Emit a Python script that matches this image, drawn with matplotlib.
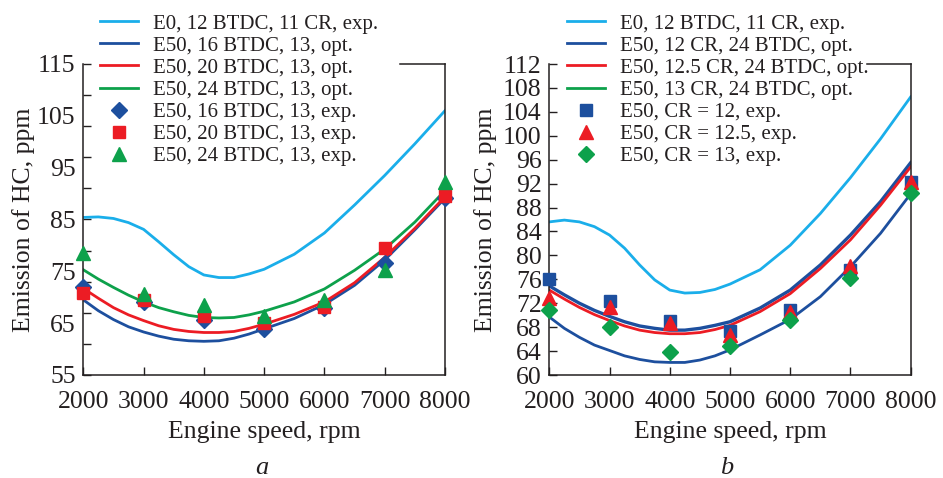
import numpy as np
import matplotlib
matplotlib.use("Agg")
import matplotlib.pyplot as plt
from matplotlib.lines import Line2D

plt.rcParams['font.family'] = ['Liberation Serif', 'DejaVu Serif']

# engine speed grid for the fitted (opt.) curves, rpm (finer where the curves bend)
speed_fit = [2000, 2250, 2500, 2750, 3000, 3250, 3500, 3750, 4000, 4250, 4500, 4750, 5000,
             5500, 6000, 6500, 7000, 7500, 8000]
# engine speed of the measured (exp.) points
speed_exp = [2000, 3000, 4000, 5000, 6000, 7000, 8000]

# ---- panel a: ignition timing ----
e0_a = [85.4, 85.5, 85.2, 84.4, 83.1, 80.7, 78.2, 75.9, 74.3, 73.8, 73.8, 74.5, 75.4,
        78.3, 82.4, 87.8, 93.5, 99.6, 106.0]
btdc16_opt = [69.5, 67.4, 65.7, 64.3, 63.3, 62.5, 61.9, 61.6, 61.5, 61.6, 62.1, 62.9, 63.9,
              65.9, 68.6, 72.3, 77.2, 83.0, 89.1]
btdc20_opt = [71.7, 69.8, 68.0, 66.6, 65.5, 64.5, 63.8, 63.4, 63.2, 63.2, 63.4, 64.0, 64.8,
              66.7, 69.1, 72.8, 77.7, 83.3, 89.4]
btdc24_opt = [75.3, 73.5, 71.9, 70.4, 69.1, 68.0, 67.2, 66.5, 66.1, 66.0, 66.1, 66.6, 67.3,
              69.1, 71.6, 75.2, 79.3, 84.5, 90.6]
btdc16_exp = [71.9, 69.1, 65.7, 63.8, 67.9, 76.6, 89.2]
btdc20_exp = [70.8, 69.5, 66.4, 65.1, 68.2, 79.5, 89.5]
btdc24_exp = [78.5, 70.6, 68.5, 66.3, 69.5, 75.3, 92.2]

labels_a = ["E0, 12 BTDC, 11 CR, exp.",
            "E50, 16 BTDC, 13, opt.",
            "E50, 20 BTDC, 13, opt.",
            "E50, 24 BTDC, 13, opt.",
            "E50, 16 BTDC, 13, exp.",
            "E50, 20 BTDC, 13, exp.",
            "E50, 24 BTDC, 13, exp."]

# ---- panel b: compression ratio ----
e0_b = [85.6, 85.9, 85.6, 84.8, 83.4, 81.2, 78.4, 75.9, 74.2, 73.7, 73.8, 74.3, 75.2,
        77.6, 81.7, 87.0, 93.0, 99.5, 106.5]
cr12_opt = [74.9, 73.4, 72.0, 70.8, 69.8, 68.9, 68.2, 67.8, 67.5, 67.5, 67.8, 68.3, 68.9,
            71.2, 74.2, 78.4, 83.4, 89.0, 95.5]
cr125_opt = [74.2, 72.7, 71.3, 70.1, 69.1, 68.2, 67.5, 67.1, 66.9, 66.9, 67.1, 67.6, 68.3,
             70.6, 73.6, 77.8, 82.6, 88.4, 94.8]
cr13_opt = [69.7, 67.8, 66.3, 65.0, 64.1, 63.2, 62.6, 62.2, 62.1, 62.1, 62.5, 63.2, 64.2,
            66.7, 69.3, 73.1, 78.1, 83.7, 90.3]
cr12_exp = [76.0, 72.4, 69.1, 67.4, 70.9, 77.6, 92.3]
cr125_exp = [72.8, 71.3, 68.7, 66.7, 70.6, 78.2, 92.3]
cr13_exp = [70.9, 68.1, 63.9, 64.9, 69.2, 76.2, 90.4]

labels_b = ["E0, 12 BTDC, 11 CR, exp.",
            "E50, 12 CR, 24 BTDC, opt.",
            "E50, 12.5 CR, 24 BTDC, opt.",
            "E50, 13 CR, 24 BTDC, opt.",
            "E50, CR = 12, exp.",
            "E50, CR = 12.5, exp.",
            "E50, CR = 13, exp."]

CYAN = '#1AAEEA'
BLUE = '#1D4F9E'
RED = '#EC1C24'
GREEN = '#0DA14B'
INK = '#231F20'

W, H = 943, 478
fig = plt.figure(figsize=(W / 100, H / 100), dpi=100)
ax_a = fig.add_axes([83.3 / W, 1 - 375 / H, (445 - 83.3) / W, 311 / H])
ax_b = fig.add_axes([549.3 / W, 1 - 375 / H, (910.7 - 549.3) / W, 311 / H])

LW = 2.0
mk = dict(linestyle='none', clip_on=False, zorder=4)
D_MS, S_MS, T_MS = 8, 8.5, 9.5


def style_axes(ax, ylim, top_from):
    ax.set_xlim(2000, 8000)
    ax.set_ylim(*ylim)
    ax.set_xticks(range(2000, 8001, 1000))
    for s in ax.spines.values():
        s.set_color(INK)
        s.set_linewidth(1.1)
    # top spine is hidden behind the legend, only the right end shows
    ax.spines['top'].set_bounds(top_from, 8000)
    ax.tick_params(axis='x', direction='in', length=6, width=1, color=INK,
                   labelsize=18.5, labelcolor=INK, pad=11.5)
    ax.tick_params(axis='y', which='both', direction='in', width=1, color=INK,
                   labelsize=18.5, labelcolor=INK, pad=5.5)
    ax.set_xlabel('Engine speed, rpm', fontsize=18.5, color=INK)
    ax.xaxis.set_label_coords(0.5, -0.148)
    ax.set_ylabel('Emission of HC, ppm', fontsize=18.5, color=INK, va='bottom')


# panel a
ax = ax_a
ax.plot(speed_fit, e0_a, color=CYAN, lw=LW)
ax.plot(speed_fit, btdc24_opt, color=GREEN, lw=LW)
ax.plot(speed_fit, btdc16_opt, color=BLUE, lw=LW)
ax.plot(speed_fit, btdc20_opt, color=RED, lw=LW)
ax.plot(speed_exp, btdc16_exp, marker='D', ms=D_MS, color=BLUE, **mk)
ax.plot(speed_exp, btdc20_exp, marker='s', ms=S_MS, color=RED, **mk)
ax.plot(speed_exp, btdc24_exp, marker='^', ms=T_MS, color=GREEN, **mk)
style_axes(ax, (55, 115), 7252)
# labels every 10 ppm, tick marks every 6 ppm as in the original
ax.set_yticks(range(55, 116, 10))
ax.tick_params(axis='y', which='major', length=0)
ax.set_yticks(range(55, 116, 6), minor=True)
ax.tick_params(axis='y', which='minor', length=6)
ax.yaxis.remove_overlapping_locs = False
ax.yaxis.set_label_coords(-0.134, 0.5)

# panel b (13 CR curve is printed in blue in the source figure)
ax = ax_b
ax.plot(speed_fit, e0_b, color=CYAN, lw=LW)
ax.plot(speed_fit, cr13_opt, color=BLUE, lw=LW)
ax.plot(speed_fit, cr12_opt, color=BLUE, lw=LW + 0.4)
ax.plot(speed_fit, cr125_opt, color=RED, lw=LW)
ax.plot(speed_exp, cr12_exp, marker='s', ms=S_MS, color=BLUE, **mk)
ax.plot(speed_exp, cr125_exp, marker='^', ms=T_MS, color=RED, **mk)
ax.plot(speed_exp, cr13_exp, marker='D', ms=D_MS, color=GREEN, **mk)
style_axes(ax, (60, 112), 7277)
ax.set_yticks(range(60, 113, 4))
ax.tick_params(axis='y', which='major', length=6)
ax.yaxis.set_label_coords(-0.145, 0.5)


def legend_handles(colors, markers, sizes):
    hs = [Line2D([], [], color=c, lw=LW) for c in colors]
    hs += [Line2D([], [], color=c, marker=m, ms=s, linestyle='none')
           for c, m, s in zip(colors[1:], markers, sizes)]
    return hs


leg_kw = dict(loc='upper left', bbox_transform=fig.transFigure, frameon=False,
              borderpad=0, borderaxespad=0, handlelength=1.82, handletextpad=0.72,
              labelspacing=0.12, fontsize=15, labelcolor=INK)

ax_a.legend(legend_handles([CYAN, BLUE, RED, GREEN], ['D', 's', '^'], [D_MS, S_MS, T_MS]),
            labels_a, bbox_to_anchor=(100 / W, 1 - 14 / H), **leg_kw)
ax_b.legend(legend_handles([CYAN, BLUE, RED, GREEN], ['s', '^', 'D'], [S_MS, T_MS, D_MS]),
            labels_b, bbox_to_anchor=(567 / W, 1 - 14 / H), **leg_kw)

fig.text(262 / W, 4 / H, 'a', style='italic', fontsize=19, color=INK, ha='center', va='baseline')
fig.text(727 / W, 4 / H, 'b', style='italic', fontsize=19, color=INK, ha='center', va='baseline')

fig.savefig('out.png', dpi=100, facecolor='white')
